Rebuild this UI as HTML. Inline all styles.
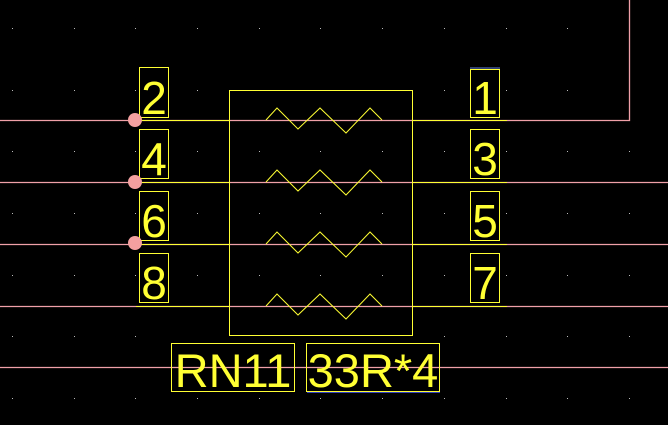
<!DOCTYPE html>
<html><head><style>html,body{margin:0;padding:0;background:#000;width:668px;height:425px;overflow:hidden}</style></head>
<body>
<svg width="668" height="425" xmlns="http://www.w3.org/2000/svg" style="display:block">
<rect width="668" height="425" fill="#000"/>
<g id="dots" fill="#bbb">
<rect x="12" y="28" width="1" height="1"/><rect x="74" y="28" width="1" height="1"/><rect x="135" y="28" width="1" height="1"/><rect x="197" y="28" width="1" height="1"/><rect x="259" y="28" width="1" height="1"/><rect x="320" y="28" width="1" height="1"/><rect x="382" y="28" width="1" height="1"/><rect x="444" y="28" width="1" height="1"/><rect x="506" y="28" width="1" height="1"/><rect x="567" y="28" width="1" height="1"/>
<rect x="12" y="90" width="1" height="1"/><rect x="74" y="90" width="1" height="1"/><rect x="135" y="90" width="1" height="1"/><rect x="197" y="90" width="1" height="1"/><rect x="444" y="90" width="1" height="1"/><rect x="506" y="90" width="1" height="1"/><rect x="567" y="90" width="1" height="1"/>
<rect x="12" y="151" width="1" height="1"/><rect x="74" y="151" width="1" height="1"/><rect x="135" y="151" width="1" height="1"/><rect x="197" y="151" width="1" height="1"/><rect x="259" y="151" width="1" height="1"/><rect x="320" y="151" width="1" height="1"/><rect x="382" y="151" width="1" height="1"/><rect x="444" y="151" width="1" height="1"/><rect x="506" y="151" width="1" height="1"/><rect x="567" y="151" width="1" height="1"/><rect x="629" y="151" width="1" height="1"/>
<rect x="12" y="213" width="1" height="1"/><rect x="74" y="213" width="1" height="1"/><rect x="135" y="213" width="1" height="1"/><rect x="197" y="213" width="1" height="1"/><rect x="259" y="213" width="1" height="1"/><rect x="320" y="213" width="1" height="1"/><rect x="382" y="213" width="1" height="1"/><rect x="444" y="213" width="1" height="1"/><rect x="506" y="213" width="1" height="1"/><rect x="567" y="213" width="1" height="1"/><rect x="629" y="213" width="1" height="1"/>
<rect x="12" y="275" width="1" height="1"/><rect x="74" y="275" width="1" height="1"/><rect x="135" y="275" width="1" height="1"/><rect x="197" y="275" width="1" height="1"/><rect x="259" y="275" width="1" height="1"/><rect x="320" y="275" width="1" height="1"/><rect x="382" y="275" width="1" height="1"/><rect x="444" y="275" width="1" height="1"/><rect x="506" y="275" width="1" height="1"/><rect x="567" y="275" width="1" height="1"/><rect x="629" y="275" width="1" height="1"/>
<rect x="12" y="336" width="1" height="1"/><rect x="74" y="336" width="1" height="1"/><rect x="135" y="336" width="1" height="1"/><rect x="444" y="336" width="1" height="1"/><rect x="506" y="336" width="1" height="1"/><rect x="567" y="336" width="1" height="1"/><rect x="629" y="336" width="1" height="1"/>
<rect x="12" y="398" width="1" height="1"/><rect x="74" y="398" width="1" height="1"/><rect x="135" y="398" width="1" height="1"/><rect x="197" y="398" width="1" height="1"/><rect x="259" y="398" width="1" height="1"/><rect x="320" y="398" width="1" height="1"/><rect x="382" y="398" width="1" height="1"/><rect x="444" y="398" width="1" height="1"/><rect x="506" y="398" width="1" height="1"/><rect x="567" y="398" width="1" height="1"/><rect x="629" y="398" width="1" height="1"/>
</g>
<g stroke="#f0a0a8" stroke-width="1.3" fill="none">
<polyline points="0,120.5 629.5,120.5 629.5,0"/>
<line x1="0" y1="182.5" x2="668" y2="182.5"/>
<line x1="0" y1="244.5" x2="668" y2="244.5"/>
<line x1="0" y1="306.5" x2="668" y2="306.5"/>
<line x1="0" y1="367.5" x2="668" y2="367.5"/>
</g>
<g stroke="#ffff33" stroke-width="1" fill="none">
<line x1="136" y1="120.5" x2="229" y2="120.5"/><line x1="413" y1="120.5" x2="507" y2="120.5"/>
<line x1="136" y1="182.5" x2="229" y2="182.5"/><line x1="413" y1="182.5" x2="507" y2="182.5"/>
<line x1="136" y1="244.5" x2="229" y2="244.5"/><line x1="413" y1="244.5" x2="507" y2="244.5"/>
<line x1="136" y1="306.5" x2="229" y2="306.5"/><line x1="413" y1="306.5" x2="507" y2="306.5"/>
<rect x="229.5" y="90.5" width="183" height="245"/>
<polyline points="266,120 277,108 298,129 320,108 346,133 370,108 382,120"/>
<polyline points="266,182 277,170 298,191 320,170 346,195 370,170 382,182"/>
<polyline points="266,244 277,232 298,253 320,232 346,257 370,232 382,244"/>
<polyline points="266,306 277,294 298,315 320,294 346,319 370,294 382,306"/>
<rect x="139.5" y="67.5" width="29" height="50"/>
<rect x="139.5" y="129.5" width="29" height="49"/>
<rect x="139.5" y="191.5" width="29" height="49"/>
<rect x="139.5" y="253.5" width="29" height="49"/>
<rect x="470.5" y="69.5" width="29" height="48"/>
<rect x="470.5" y="129.5" width="29" height="49"/>
<rect x="470.5" y="191.5" width="29" height="49"/>
<rect x="470.5" y="253.5" width="29" height="49"/>
<rect x="171.5" y="343.5" width="123" height="48"/>
<rect x="306.5" y="343.5" width="133" height="48"/>
</g>
<line x1="470" y1="68" x2="500" y2="68" stroke="#6080e0" stroke-width="1"/>
<line x1="307" y1="392.5" x2="440" y2="392.5" stroke="#3040c0" stroke-width="1"/>
<g fill="#f4a0a0">
<circle cx="135" cy="120" r="7"/><circle cx="135" cy="182" r="7"/><circle cx="135" cy="243" r="7"/>
</g>
<g fill="#ffff33" font-family="Liberation Sans, sans-serif" font-size="46" text-anchor="middle">
<text x="154" y="114">2</text><text x="154" y="175">4</text><text x="154" y="237">6</text><text x="154" y="299">8</text>
<text x="485" y="114">1</text><text x="485" y="175">3</text><text x="485" y="237">5</text><text x="485" y="299">7</text>
<text x="233" y="387" font-size="47">RN11</text><text x="373" y="387" font-size="47">33R*4</text>
</g>
</svg>
</body></html>
